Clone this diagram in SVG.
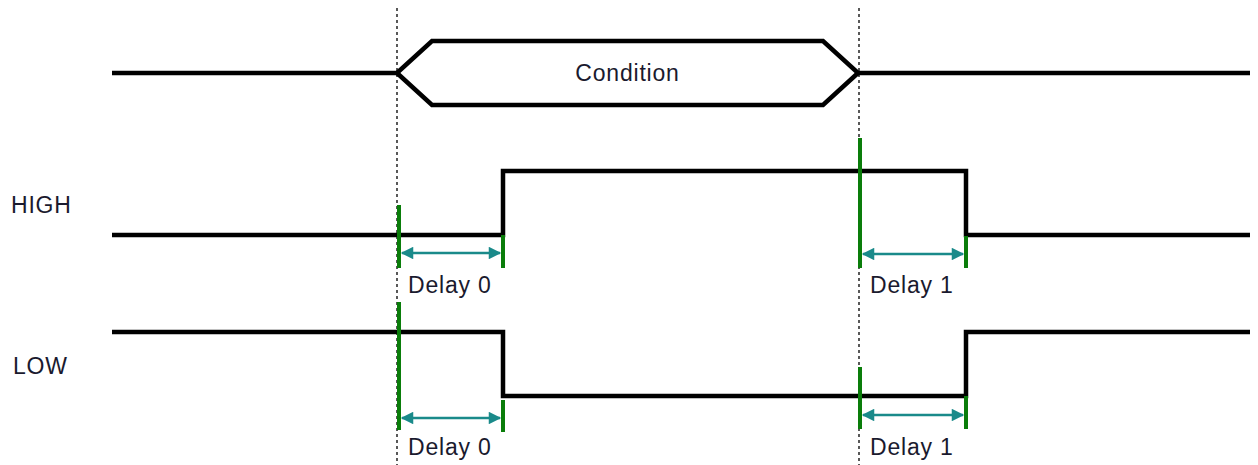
<svg xmlns="http://www.w3.org/2000/svg" width="1258" height="465" viewBox="0 0 1258 465">
<defs>
<style>
.sig{fill:none;stroke:#000;stroke-width:4.5;stroke-linejoin:miter}
.grid{stroke:#000;stroke-width:1.3;stroke-dasharray:3,3}
.mark{stroke:#0a7d0a;stroke-width:4}
.arr{stroke:#1a8a8a;stroke-width:2.5;marker-start:url(#ah);marker-end:url(#ah)}
.t{font-family:"Liberation Sans",Arial,sans-serif;font-size:23px;letter-spacing:0.8px;fill:#1a1a2e}
</style>
<marker id="ah" viewBox="0 0 10 10" refX="9" refY="5" markerWidth="5.5" markerHeight="5" orient="auto-start-reverse" markerUnits="strokeWidth">
<path d="M0,0 L10,5 L0,10 z" fill="#1a8a8a"/>
</marker>
</defs>
<rect width="1258" height="465" fill="#fff"/>
<g id="guides">
<line class="grid" x1="397" y1="8" x2="397" y2="465"/>
<line class="grid" x1="859" y1="8" x2="859" y2="465"/>
</g>
<g id="condition">
<path class="sig" d="M112,73 H397 L432,41 H823 L858,73 H1250"/>
<path class="sig" d="M397,73 L432,105 H823 L858,73"/>
<text class="t" x="627.5" y="81" text-anchor="middle">Condition</text>
</g>
<g id="high">
<text class="t" x="11" y="213">HIGH</text>
<path class="sig" d="M112,235 H503 V171 H966 V235 H1250"/>
</g>
<g id="low">
<text class="t" x="13" y="374">LOW</text>
<path class="sig" d="M112,332 H503 V396 H966 V332 H1250"/>
</g>
<g id="connectors">
<line class="mark" x1="399" y1="205" x2="399" y2="268"/>
<line class="mark" x1="503" y1="235" x2="503" y2="268"/>
<line class="arr" x1="402" y1="253" x2="500" y2="253"/>
<line class="mark" x1="860" y1="138" x2="860" y2="268"/>
<line class="mark" x1="966" y1="236" x2="966" y2="268"/>
<line class="arr" x1="863" y1="254" x2="963" y2="254"/>
<line class="mark" x1="399" y1="302" x2="399" y2="430"/>
<line class="mark" x1="503" y1="400" x2="503" y2="432"/>
<line class="arr" x1="402" y1="418" x2="500" y2="418"/>
<line class="mark" x1="860" y1="367" x2="860" y2="429"/>
<line class="mark" x1="966" y1="396" x2="966" y2="429"/>
<line class="arr" x1="863" y1="415" x2="963" y2="415"/>
</g>
<g id="labels">
<text class="t" x="408" y="293">Delay 0</text>
<text class="t" x="870" y="293">Delay 1</text>
<text class="t" x="408" y="455">Delay 0</text>
<text class="t" x="870" y="455">Delay 1</text>
</g>
</svg>
